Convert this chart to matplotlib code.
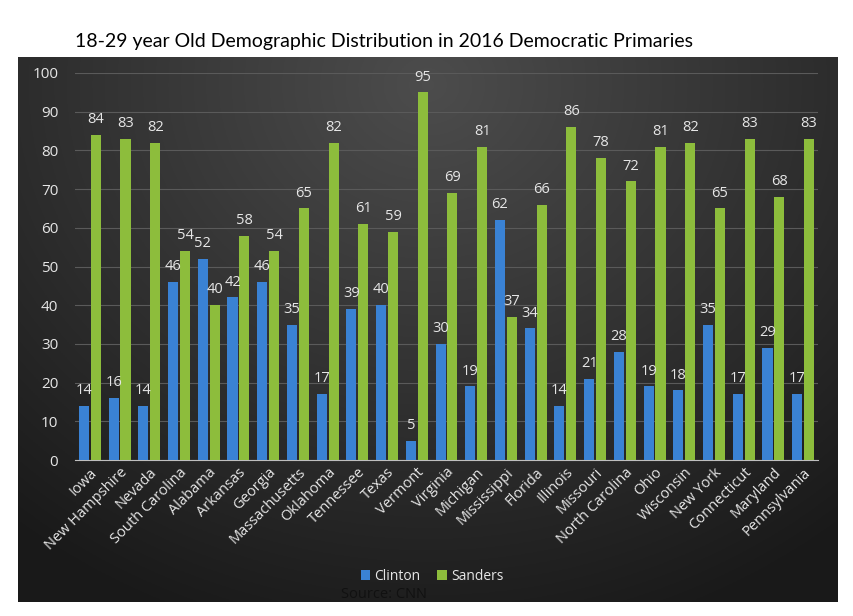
import numpy as np
import matplotlib
matplotlib.use("Agg")
import matplotlib.pyplot as plt

STATES = ["Iowa", "New Hampshire", "Nevada", "South Carolina", "Alabama", "Arkansas",
          "Georgia", "Massachusetts", "Oklahoma", "Tennessee", "Texas", "Vermont",
          "Virginia", "Michigan", "Mississippi", "Florida", "Illinois", "Missouri",
          "North Carolina", "Ohio", "Wisconsin", "New York", "Connecticut", "Maryland",
          "Pennsylvania"]
CLINTON = [14, 16, 14, 46, 52, 42, 46, 35, 17, 39, 40, 5, 30, 19, 62, 34, 14, 21, 28,
           19, 18, 35, 17, 29, 17]
SANDERS = [84, 83, 82, 54, 40, 58, 54, 65, 82, 61, 59, 95, 69, 81, 37, 66, 86, 78, 72,
           81, 82, 65, 83, 68, 83]

BLUE = "#3a82d4"
GREEN = "#8dbd3c"
TXT = "#e6e6e6"

fig = plt.figure(figsize=(8.54, 6.16), dpi=100)
W, H = 854, 616

# dark panel with radial gradient
bg = fig.add_axes([18 / W, 1 - 602 / H, 820 / W, 545 / H])
yy, xx = np.mgrid[0:1:300j, 0:1:450j]
r = np.sqrt(((xx - 0.5) / 0.75) ** 2 + ((yy - 0.05) / 1.0) ** 2)
shade = np.clip(0.30 - 0.19 * r, 0.10, 0.30)
bg.imshow(np.dstack([shade] * 3), aspect="auto", extent=(0, 1, 1, 0))
bg.set_axis_off()

ax = fig.add_axes([75 / W, 1 - 460 / H, 743 / W, 387 / H])
ax.patch.set_alpha(0)
x = np.arange(len(STATES))
w = 0.34
b1 = ax.bar(x - 0.2, CLINTON, w, color=BLUE, label="Clinton", zorder=3)
b2 = ax.bar(x + 0.2, SANDERS, w, color=GREEN, label="Sanders", zorder=3)
for i in x:
    ax.text(i - 0.2, CLINTON[i] + 2, str(CLINTON[i]), ha="center", va="bottom",
            color=TXT, fontsize=10.5, family="Open Sans")
    ax.text(i + 0.2, SANDERS[i] + 2, str(SANDERS[i]), ha="center", va="bottom",
            color=TXT, fontsize=10.5, family="Open Sans")

ax.set_xlim(-0.5, len(STATES) - 0.5)
ax.set_ylim(0, 100)
ax.set_yticks(range(0, 101, 10))
ax.grid(axis="y", color="#5a5a5a", lw=0.8, zorder=0)
for s in ["top", "right", "left"]:
    ax.spines[s].set_visible(False)
ax.spines["bottom"].set_color("#bfbfbf")
ax.tick_params(length=0, colors=TXT, labelsize=11)
ax.set_xticks(x)
ax.set_xticklabels(STATES, rotation=45, ha="right", rotation_mode="anchor",
                   family="Open Sans", fontsize=10.5)
for lab in ax.get_yticklabels():
    lab.set_family("Open Sans")
ax.tick_params(axis="y", pad=12)

leg = fig.legend(handles=[b1, b2], loc="center", bbox_to_anchor=(432 / W, 1 - 576 / H),
                 ncol=2, frameon=False, fontsize=10.5, handlelength=0.7, handleheight=0.7,
                 columnspacing=1.2, handletextpad=0.3, prop={"family": "Open Sans"})
for t in leg.get_texts():
    t.set_color(TXT)

fig.text(341 / W, 1 - 594 / H, "Source: CNN", color="#111111", fontsize=10.5,
         family="Open Sans", va="center")
fig.text(75 / W, 1 - 42 / H, "18-29 year Old Demographic Distribution in 2016 Democratic Primaries",
         color="black", fontsize=14, family="Lato", va="center")

fig.savefig("out.png", dpi=100)
